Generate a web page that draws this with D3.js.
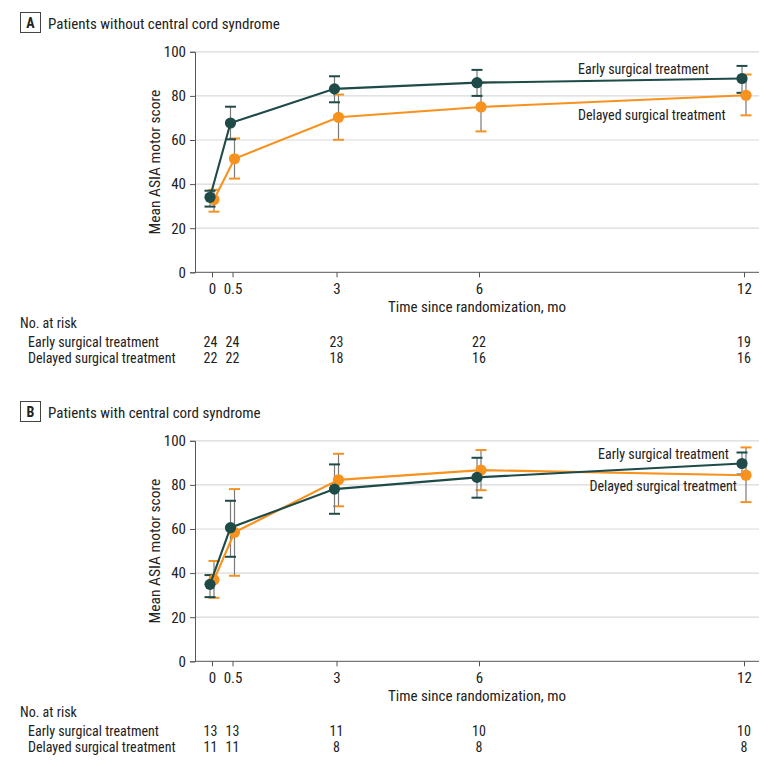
<!DOCTYPE html>
<html><head><meta charset="utf-8">
<script src="https://cdn.jsdelivr.net/npm/d3@7"></script>
<style>
body{margin:0;background:#fff;}
svg text{font-family:"Roboto Condensed","DejaVu Sans Condensed",sans-serif;fill:#222;}
</style></head>
<body><svg id="c" width="780" height="767"></svg>
<script>
const times = [0, 0.5, 3, 6, 12];
const timeLabels = ["0", "0.5", "3", "6", "12"];
const yTicks = [0, 20, 40, 60, 80, 100];
const seriesNames = ["Early surgical treatment", "Delayed surgical treatment"];

// Panel A: patients without central cord syndrome
const aEarlyMean = [34, 67.7, 83.2, 86.0, 87.9];
const aEarlyLow  = [29.8, 60.3, 77.1, 80.0, 81.4];
const aEarlyHigh = [37.0, 75.1, 88.9, 91.8, 93.6];
const aDelayedMean = [33, 51.5, 70.3, 75.0, 80.3];
const aDelayedLow  = [27.5, 42.5, 60.1, 63.9, 71.2];
const aDelayedHigh = [37.4, 60.7, 80.6, 86.0, 89.7];
const aRiskEarly = [24, 24, 23, 22, 19];
const aRiskDelayed = [22, 22, 18, 16, 16];

// Panel B: patients with central cord syndrome
const bEarlyMean = [34.9, 60.6, 78.1, 83.4, 89.7];
const bEarlyLow  = [29.1, 47.4, 66.9, 74.2, 84.7];
const bEarlyHigh = [39.1, 72.8, 89.3, 92.3, 94.7];
const bDelayedMean = [37, 58.5, 82.3, 86.7, 84.4];
const bDelayedLow  = [28.8, 38.8, 70.3, 77.6, 72.2];
const bDelayedHigh = [45.5, 78.1, 94.1, 95.8, 97.0];
const bRiskEarly = [13, 13, 11, 10, 10];
const bRiskDelayed = [11, 11, 8, 8, 8];

const colEarly = "#1e4b47", colDelayed = "#f7921e";
const svg = d3.select("#c");

const x = d3.scaleLinear().domain(times).range([212, 232.5, 336.5, 479, 744]);

function txt(g, px, py, str, size, anchor){
  return g.append("text").attr("x",px).attr("y",py)
    .attr("text-anchor",anchor||"start").style("font-size",size).text(str);
}

function panel(cfg){
  const g = svg.append("g");
  const top = cfg.top;
  const y = d3.scaleLinear().domain([0,100]).range([top+220.5, top]);
  g.append("rect").attr("x",20.5).attr("y",cfg.titleY-10.5).attr("width",20).attr("height",20)
    .attr("fill","#fff").attr("stroke","#444").attr("stroke-width",1);
  txt(g,30.5,cfg.titleY+5,cfg.letter,"14px","middle").style("font-weight","bold");
  txt(g,48,cfg.titleY+5.5,cfg.title,"15px");
  g.selectAll(".grid").data(yTicks.slice(1)).join("line")
    .attr("x1",195).attr("x2",759).attr("y1",d=>y(d)).attr("y2",d=>y(d))
    .attr("stroke","#d9d9d9").attr("stroke-width",1.2);
  const ya = g.append("g").attr("transform","translate(195,0)")
    .call(d3.axisLeft(y).tickValues(yTicks).tickSize(5).tickPadding(4));
  const xa = g.append("g").attr("transform",`translate(0,${y(0)})`)
    .call(d3.axisBottom(x).tickValues(times).tickFormat((d,i)=>timeLabels[i]).tickSize(5).tickPadding(6));
  xa.select(".domain").attr("d",`M195,0H759`);
  [ya,xa].forEach(a=>{
    a.selectAll(".domain").attr("stroke","#555");
    a.selectAll(".tick line").attr("stroke","#555");
    a.selectAll("text").style("font-size","15px").attr("font-family",null).attr("fill","#222");
  });
  g.append("text").attr("transform",`translate(160,${y(50)}) rotate(-90)`).attr("text-anchor","middle")
    .style("font-size","15.5px").text("Mean ASIA motor score");
  txt(g,477,y(0)+40,"Time since randomization, mo","15px","middle");

  const series = [
    {mean:cfg.dm, lo:cfg.dl, hi:cfg.dh, col:colDelayed, off:2},
    {mean:cfg.em, lo:cfg.el, hi:cfg.eh, col:colEarly, off:-2}
  ];
  series.forEach(s=>{
    const eg = g.append("g");
    times.forEach((t,i)=>{
      const cx = x(t)+s.off;
      eg.append("line").attr("x1",cx).attr("x2",cx).attr("y1",y(s.lo[i])).attr("y2",y(s.hi[i]))
        .attr("stroke","#7a7a7a").attr("stroke-width",1.2);
      [s.lo[i], s.hi[i]].forEach(v=>{
        eg.append("line").attr("x1",cx-5.5).attr("x2",cx+5.5).attr("y1",y(v)).attr("y2",y(v))
          .attr("stroke",s.col).attr("stroke-width",2);
      });
    });
  });
  series.forEach(s=>{
    g.append("path").datum(s.mean).attr("d", d3.line().x((d,i)=>x(times[i])+s.off).y(d=>y(d)))
      .attr("fill","none").attr("stroke",s.col).attr("stroke-width",2.1);
    g.selectAll(null).data(s.mean).join("circle")
      .attr("cx",(d,i)=>x(times[i])+s.off).attr("cy",d=>y(d)).attr("r",5.6).attr("fill",s.col);
  });
  txt(g,cfg.lab.ex,cfg.lab.ey,seriesNames[0],"14px",cfg.lab.anchor);
  txt(g,cfg.lab.dx,cfg.lab.dy,seriesNames[1],"14px",cfg.lab.anchor);
  const rt = y(0)+56;
  const FS = "14px";
  txt(g,20,rt,"No. at risk",FS);
  [[cfg.re, seriesNames[0]],[cfg.rd, seriesNames[1]]].forEach(([vals,name],k)=>{
    const yy = rt+19+k*16;
    txt(g,28,yy,name,FS);
    vals.forEach((v,i)=>txt(g, x(times[i]) + (i===0?-1.5:0), yy, v, FS, "middle"));
  });
}

panel({top:51.8, titleY:23, letter:"A", title:"Patients without central cord syndrome",
  em:aEarlyMean, el:aEarlyLow, eh:aEarlyHigh, dm:aDelayedMean, dl:aDelayedLow, dh:aDelayedHigh,
  re:aRiskEarly, rd:aRiskDelayed,
  lab:{anchor:"start", ex:578, ey:74, dx:578, dy:120}});
panel({top:440.8, titleY:412, letter:"B", title:"Patients with central cord syndrome",
  em:bEarlyMean, el:bEarlyLow, eh:bEarlyHigh, dm:bDelayedMean, dl:bDelayedLow, dh:bDelayedHigh,
  re:bRiskEarly, rd:bRiskDelayed,
  lab:{anchor:"end", ex:729, ey:459, dx:737, dy:491}});
</script></body></html>
